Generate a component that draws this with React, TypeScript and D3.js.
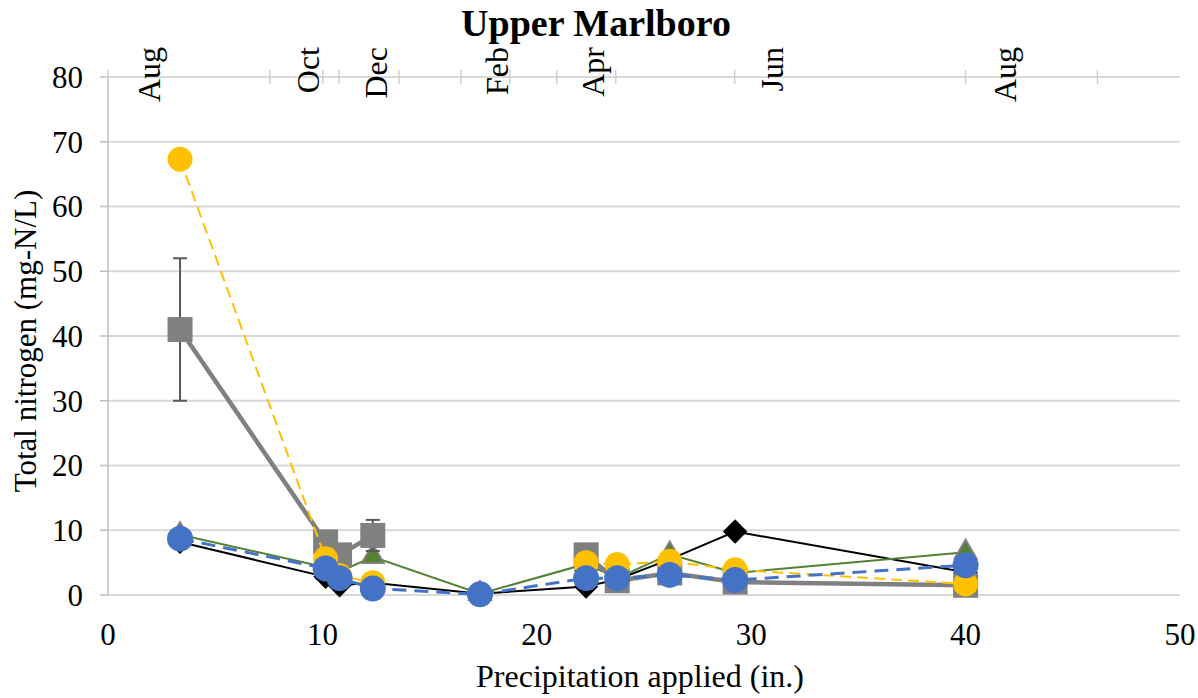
import React from "react";
import * as d3 from "d3";

const precip = [3.36, 10.15, 10.8, 12.35, 17.35, 22.3, 23.75, 26.2, 29.25, 40.0];
const blackVals: (number | null)[] = [8.2, 2.8, 1.5, 1.9, 0.2, 1.3, 2.4, 5.5, 9.8, 3.5];
const greenVals: (number | null)[] = [9.3, 4.3, 3.6, 5.9, 0.2, 4.8, 2.6, 6.3, 3.4, 6.6];
const grayVals: (number | null)[] = [41.0, 8.2, 6.2, 9.2, null, 6.2, 2.2, 3.4, 2.0, 1.5];
const grayErr = [11, 0, 0, 2.4, 0, 0, 0, 0, 0, 0];
const yellowVals: (number | null)[] = [67.3, 5.6, 3.0, 1.9, null, 5.0, 4.7, 5.2, 3.9, 1.7];
const blueVals: (number | null)[] = [8.7, 4.1, 2.6, 1.0, 0.1, 2.6, 2.6, 3.1, 2.3, 4.6];

const yTicks = [0, 10, 20, 30, 40, 50, 60, 70, 80];
const xTicks = [0, 10, 20, 30, 40, 50];
const monthTickPos = [0, 7.55, 10.02, 10.77, 13.57, 16.46, 18.74, 20.93, 23.68, 29.23, 40.0, 46.15];
const monthLabels = ["Aug", "Oct", "Dec", "Feb", "Apr", "Jun", "Aug"];
const monthLabelPos = [1.9, 9.32, 12.49, 18.14, 22.61, 30.96, 41.86];

const W = 1198;
const H = 698;
const FONT = "Liberation Serif";

export default function App() {
  const x = d3.scaleLinear().domain([0, 50]).range([108, 1180]);
  const y = d3.scaleLinear().domain([0, 80]).range([595, 77]);

  const mk = (vals: (number | null)[]) =>
    d3
      .line<number>()
      .defined((_, i) => vals[i] != null)
      .x((_, i) => x(precip[i]))
      .y((_, i) => y(vals[i] as number))(precip.map((_, i) => i)) || "";

  const pts = (vals: (number | null)[]) =>
    precip.map((p, i) => ({ p, v: vals[i], i })).filter((d) => d.v != null) as { p: number; v: number; i: number }[];

  const diamond = d3.symbol().type(d3.symbolDiamond2).size(380)() || "";
  const triangle = d3.symbol().type(d3.symbolTriangle2).size(340)() || "";
  const ts = { fontFamily: FONT };

  return (
    <svg width={W} height={H} style={{ position: "absolute", left: 0, top: 0, background: "#fff" }}>
      <rect width={W} height={H} fill="#fff" />
      {/* gridlines */}
      {yTicks.map((t) => (
        <line key={"g" + t} x1={108} x2={1180} y1={y(t)} y2={y(t)} stroke="#D9D9D9" strokeWidth={1.8} />
      ))}
      {/* y axis line and ticks */}
      <line x1={108} x2={108} y1={y(80)} y2={y(0)} stroke="#BFBFBF" strokeWidth={1.5} />
      {yTicks.map((t) => (
        <line key={"yt" + t} x1={100} x2={108} y1={y(t)} y2={y(t)} stroke="#BFBFBF" strokeWidth={1.5} />
      ))}
      {/* top month axis ticks */}
      {monthTickPos.map((t, i) => (
        <line key={"mt" + i} x1={x(t)} x2={x(t)} y1={y(80) - 7} y2={y(80) + 7} stroke="#D0D0D0" strokeWidth={1.5} />
      ))}
      {monthLabels.map((m, i) => (
        <text
          key={"ml" + i}
          transform={`translate(${x(monthLabelPos[i]) + 11},47) rotate(-90)`}
          textAnchor="end"
          fontSize={32}
          fill="#000"
          style={ts}
        >
          {m}
        </text>
      ))}
      {/* y tick labels */}
      {yTicks.map((t) => (
        <text key={"yl" + t} x={83} y={y(t)} dy="0.35em" textAnchor="end" fontSize={31} style={ts}>
          {t}
        </text>
      ))}
      {/* x tick labels */}
      {xTicks.map((t) => (
        <text key={"xl" + t} x={x(t)} y={645} textAnchor="middle" fontSize={31} style={ts}>
          {t}
        </text>
      ))}
      {/* titles */}
      <text x={596} y={36} textAnchor="middle" fontSize={38} fontWeight="bold" style={ts}>
        Upper Marlboro
      </text>
      <text x={640} y={687} textAnchor="middle" fontSize={32} style={ts}>
        Precipitation applied (in.)
      </text>
      <text transform="translate(36,341) rotate(-90)" textAnchor="middle" fontSize={31} style={ts}>
        Total nitrogen (mg-N/L)
      </text>

      {/* black series */}
      <path d={mk(blackVals)} fill="none" stroke="#000" strokeWidth={2} />
      {pts(blackVals).map((d) => (
        <path key={"bk" + d.i} d={diamond} transform={`translate(${x(d.p)},${y(d.v)})`} fill="#000" />
      ))}
      {/* green series */}
      <path d={mk(greenVals)} fill="none" stroke="#548235" strokeWidth={2} />
      {pts(greenVals).map((d) => (
        <path
          key={"gr" + d.i}
          d={triangle}
          transform={`translate(${x(d.p)},${y(d.v)})`}
          fill="#548235"
          stroke="#808080"
          strokeWidth={2}
        />
      ))}
      {/* gray series */}
      <path d={mk(grayVals)} fill="none" stroke="#808080" strokeWidth={4.5} />
      {pts(grayVals).map((d) =>
        grayErr[d.i] > 0 ? (
          <g key={"ge" + d.i} stroke="#595959" strokeWidth={2}>
            <line x1={x(d.p)} x2={x(d.p)} y1={y(d.v - grayErr[d.i])} y2={y(d.v + grayErr[d.i])} />
            <line x1={x(d.p) - 7} x2={x(d.p) + 7} y1={y(d.v + grayErr[d.i])} y2={y(d.v + grayErr[d.i])} />
            <line x1={x(d.p) - 7} x2={x(d.p) + 7} y1={y(d.v - grayErr[d.i])} y2={y(d.v - grayErr[d.i])} />
          </g>
        ) : null
      )}
      {pts(grayVals).map((d) => (
        <rect key={"gs" + d.i} x={x(d.p) - 12.5} y={y(d.v) - 12.5} width={25} height={25} fill="#808080" />
      ))}
      {/* yellow series */}
      <path d={mk(yellowVals)} fill="none" stroke="#FFC000" strokeWidth={2} strokeDasharray="11 6" />
      {pts(yellowVals).map((d) => (
        <circle key={"yc" + d.i} cx={x(d.p)} cy={y(d.v)} r={12.5} fill="#FFC000" />
      ))}
      {/* blue series */}
      <path d={mk(blueVals)} fill="none" stroke="#4472C4" strokeWidth={3} strokeDasharray="14 8" />
      {pts(blueVals).map((d) => (
        <circle key={"bc" + d.i} cx={x(d.p)} cy={y(d.v)} r={13} fill="#4472C4" />
      ))}
    </svg>
  );
}
